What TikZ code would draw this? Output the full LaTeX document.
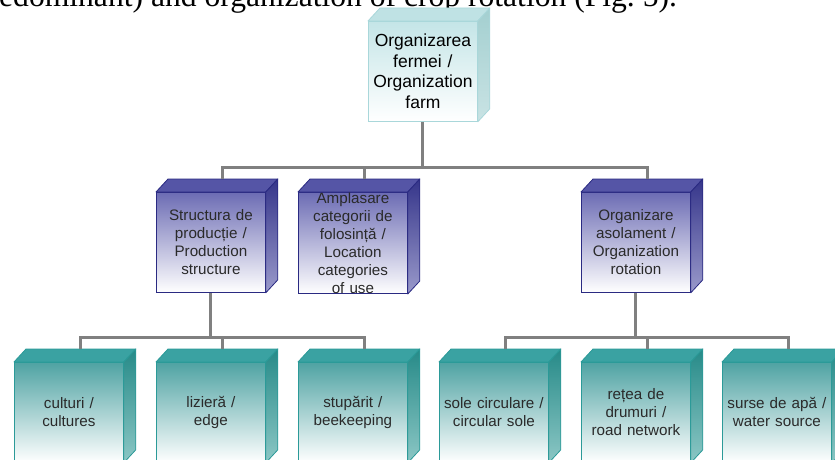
\documentclass[tikz,border=0pt]{standalone}
\usepackage{fontspec}
\setmainfont{Liberation Sans}
\newfontfamily\captionserif{Liberation Serif}
\usetikzlibrary{calc}

% colour families for the three levels of boxes
\definecolor{lvA-front}{HTML}{C4E5E7}
\definecolor{lvA-top}{HTML}{BFE2E4}
\definecolor{lvA-sidet}{HTML}{A3CFD0}
\definecolor{lvA-sideb}{HTML}{C9E3E4}
\definecolor{lvA-edge}{HTML}{A9D7DA}
\definecolor{lvA-text}{HTML}{000000}

\definecolor{lvB-front}{HTML}{6C6CB4}
\definecolor{lvB-top}{HTML}{5555A6}
\definecolor{lvB-sidet}{HTML}{35358A}
\definecolor{lvB-sideb}{HTML}{9A9ACB}
\definecolor{lvB-edge}{HTML}{2A2A82}
\definecolor{lvB-text}{HTML}{2A2A2A}

\definecolor{lvC-front}{HTML}{4FA3A3}
\definecolor{lvC-top}{HTML}{3AA2A2}
\definecolor{lvC-sidet}{HTML}{268A88}
\definecolor{lvC-sideb}{HTML}{8CC7C5}
\definecolor{lvC-edge}{HTML}{2B9A98}
\definecolor{lvC-text}{HTML}{2A2A2A}

\definecolor{linkgray}{HTML}{808080}

\tikzset{
  conn/.style={draw=linkgray, line width=3pt, line join=miter},
  cubeface/.style={anchor=north west, inner sep=0pt, align=center,
                   minimum width=109pt, minimum height=100pt, text width=108pt},
}

% \cube{name}{left x}{top y}{level}{text}
\newcommand\cube[5]{%
  \node[cubeface, draw=#4-edge, line width=0.8pt, top color=#4-front, bottom color=white,
        text=#4-text] (#1) at (#2,#3) {#5};
  \filldraw[fill=#4-top, draw=#4-edge, line width=0.8pt, line join=round]
    (#1.north west) -- ++(12pt,13pt) -- ([shift={(12pt,13pt)}]#1.north east)
    -- (#1.north east) -- cycle;
  \shade[top color=#4-sidet, bottom color=#4-sideb]
    (#1.north east) -- ++(12pt,13pt) -- ([shift={(12pt,13pt)}]#1.south east)
    -- (#1.south east) -- cycle;
  \draw[#4-edge, line width=0.8pt, line join=round]
    (#1.north east) -- ++(12pt,13pt) -- ([shift={(12pt,13pt)}]#1.south east)
    -- (#1.south east) -- cycle;
  \coordinate (#1-back) at ([shift={(12pt,13pt)}]#1.north);
}

\begin{document}
\begin{tikzpicture}[x=1pt, y=-1pt]
  \useasboundingbox (0,0) rectangle (835,460);
  \clip (0,0) rectangle (835,460);
  \fill[white] (0,0) rectangle (835,460);

  % running text of the page above the figure
  \node[anchor=base west, inner sep=0pt, font=\captionserif\fontsize{31.6}{32}\selectfont]
    (caption) at (-1,7) {edominant) and organization of crop rotation (Fig.~5).};

  % bus levels
  \coordinate (busone) at (0,167);
  \coordinate (bustwo) at (0,337);

  \begin{scope}[every node/.append style={font=\fontsize{17.5}{20.5}\selectfont}]
    \cube{farm}{368}{21}{lvA}{Organizarea\\ fermei /\\ Organization\\ farm}
  \end{scope}

  \begin{scope}[every node/.append style={font=\fontsize{15.2}{18}\selectfont}]
    \cube{prod}{156}{192}{lvB}{Structura de\\ producție /\\ Production\\ structure}
    \cube{loc}{298}{192}{lvB}{Amplasare\\ categorii de\\ folosință /\\ Location\\ categories\\ of use}
    \cube{rot}{581}{192}{lvB}{Organizare\\ asolament /\\ Organization\\ rotation}

    \cube{cult}{14}{362}{lvC}{culturi /\\ cultures}
    \cube{edge}{156}{362}{lvC}{lizieră /\\ edge}
    \cube{bees}{298}{362}{lvC}{stupărit /\\ beekeeping}
    \cube{sole}{439}{362}{lvC}{sole circulare /\\ circular sole}
    \cube{road}{581}{362}{lvC}{rețea de\\ drumuri /\\ road network}
    \cube{water}{722}{362}{lvC}{surse de apă /\\ water source}
  \end{scope}

  % tree connectors
  \draw[conn] (farm.south) -- (farm.south |- busone);
  \draw[conn] (prod-back) |- (farm.south |- busone) -| (rot-back);
  \draw[conn] (loc-back) -- (loc-back |- busone);

  \draw[conn] (prod.south) -- (prod.south |- bustwo);
  \draw[conn] (cult-back) |- (prod.south |- bustwo) -| (bees-back);
  \draw[conn] (edge-back) -- (edge-back |- bustwo);

  \draw[conn] (rot.south) -- (rot.south |- bustwo);
  \draw[conn] (sole-back) |- (rot.south |- bustwo) -| (water-back);
  \draw[conn] (road-back) -- (road-back |- bustwo);
\end{tikzpicture}
\end{document}
